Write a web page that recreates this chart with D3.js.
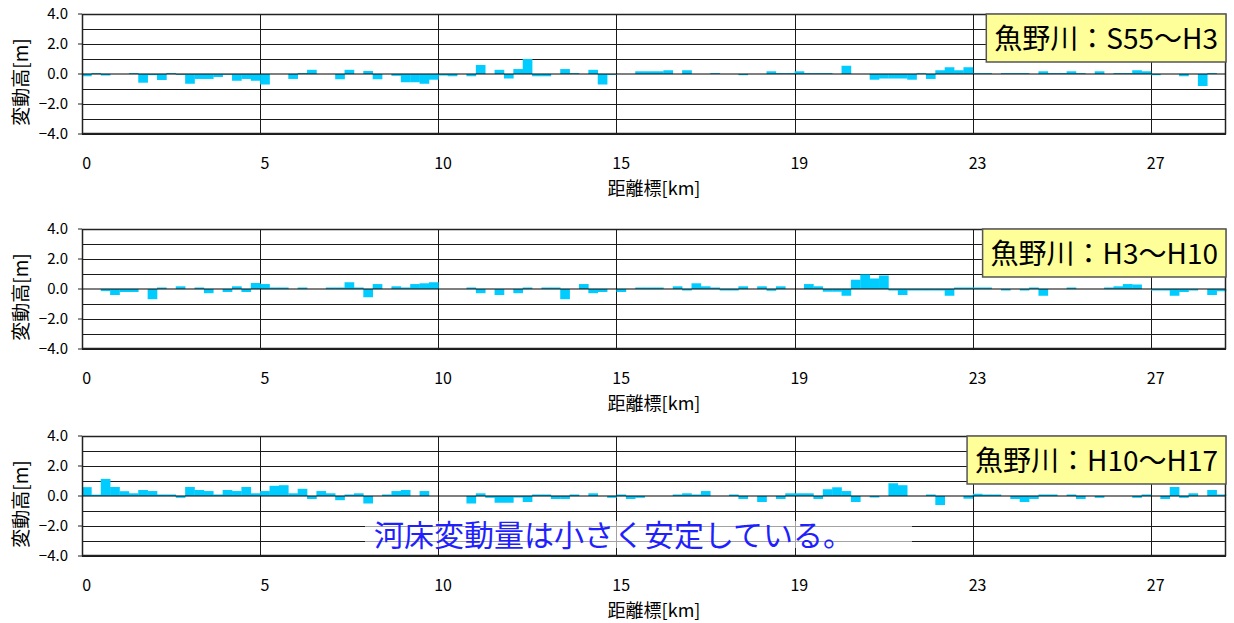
<!DOCTYPE html>
<html>
<head>
<meta charset="utf-8">
<script src="https://cdn.jsdelivr.net/npm/d3@7"></script>
<style>
  html, body { margin: 0; padding: 0; background: #fff; }
  svg { display: block; font-family: "Noto Sans CJK JP", "Noto Sans", sans-serif; }
</style>
</head>
<body>
<figure id="bed" style="margin:0"></figure>
<script>
// distance-marker sections along the river (one bar per section)
const sections = d3.range(122);
const tickIndex = [0, 19, 38, 57, 76, 95, 114];
const tickLabels = ["0", "5", "10", "15", "19", "23", "27"];
const yTicks = [-4, -2, 0, 2, 4];
const yGrid = [-4, -3, -2, -1, 0, 1, 2, 3, 4];
const periods = ["魚野川：S55～H3", "魚野川：H3～H10", "魚野川：H10～H17"];

// bed elevation change [m]
const changeS55H3 = [
  -0.15, 0.06, -0.1, 0, 0, 0.06, -0.58, -0.08, -0.4, 0.06,
  -0.06, -0.65, -0.33, -0.33, -0.2, -0.05, -0.45, -0.33, -0.45, -0.7,
  0, 0, -0.33, 0.06, 0.28, 0, 0, -0.35, 0.28, 0,
  0.2, -0.35, 0, -0.12, -0.55, -0.55, -0.65, -0.38, -0.1, -0.15,
  0, -0.15, 0.6, 0, 0.28, -0.3, 0.33, 1.0, -0.15, -0.15,
  0, 0.33, 0.06, 0, 0.28, -0.7, -0.06, 0, 0, 0.18,
  0.18, 0.18, 0.25, 0, 0.25, 0, 0, 0.06, 0, 0,
  -0.08, 0, 0, 0.18, 0.06, 0.06, 0.18, 0.06, 0.06, 0.06,
  0, 0.55, 0, 0, -0.38, -0.3, -0.3, -0.3, -0.38, 0.05,
  -0.33, 0.25, 0.45, 0.25, 0.45, 0.06, 0.06, 0, 0.06, 0.06,
  0.06, 0, 0.18, 0.06, 0.06, 0.18, 0.06, 0, 0.18, 0,
  0.06, 0.06, 0.25, 0.18, -0.08, 0, 0, -0.15, 0, -0.8,
  0.06, 0
];
const changeH3H10 = [
  0, 0, -0.14, -0.4, -0.2, -0.2, 0, -0.68, 0.1, 0,
  0.18, 0, 0.1, -0.28, 0, -0.2, 0.18, -0.2, 0.4, 0.33,
  0.1, 0.1, 0, 0.1, 0, 0, 0.1, 0.1, 0.45, 0.1,
  -0.55, 0.33, 0, 0.18, 0.1, 0.33, 0.38, 0.45, 0, 0,
  0, 0.1, -0.28, 0, -0.4, 0, -0.28, 0.1, 0, 0.1,
  0.1, -0.68, 0, 0.33, -0.28, -0.2, 0, -0.2, 0, 0.1,
  0.1, 0.1, 0, 0.18, -0.1, 0.38, 0.18, 0.1, -0.1, -0.1,
  0.18, 0, 0.18, -0.12, 0.18, 0, 0, 0.33, 0.18, -0.18,
  -0.18, -0.45, 0.62, 0.97, 0.7, 0.9, -0.1, -0.4, -0.1, -0.1,
  -0.1, -0.1, -0.45, 0.1, 0.1, 0.1, 0.1, 0, -0.1, 0,
  -0.1, 0.1, -0.45, 0, 0, 0.1, 0, 0, 0, 0.1,
  0.18, 0.33, 0.3, 0, -0.1, -0.1, -0.45, -0.2, -0.1, 0,
  -0.4, -0.15
];
const changeH10H17 = [
  0.59, 0.09, 1.14, 0.6, 0.32, 0.18, 0.4, 0.33, 0.1, 0.1,
  -0.12, 0.6, 0.4, 0.33, 0.1, 0.4, 0.33, 0.6, 0.18, 0.33,
  0.68, 0.72, 0.18, 0.48, -0.2, 0.33, 0.18, -0.28, 0.1, 0.18,
  -0.5, 0, 0.1, 0.33, 0.4, 0, 0.33, 0, 0, 0,
  0, -0.5, 0.18, -0.12, -0.45, -0.45, -0.1, -0.4, 0.1, 0.1,
  -0.2, -0.2, 0.1, 0, 0.18, 0, -0.12, 0.1, -0.2, -0.12,
  0, 0, 0, 0.1, 0.18, 0.1, 0.33, 0, 0, 0.1,
  -0.2, 0, -0.4, 0, -0.2, 0.18, 0.18, 0.18, -0.2, 0.45,
  0.58, 0.33, -0.4, 0, -0.1, 0, 0.85, 0.72, 0, 0,
  0.1, -0.6, 0, 0, -0.18, 0.15, 0.1, 0.1, 0, -0.2,
  -0.4, -0.2, 0.1, 0.1, 0, 0.1, -0.2, 0, -0.12, 0,
  0, 0, -0.12, 0.1, 0, -0.2, 0.6, -0.12, 0.18, 0,
  0.4, 0.1
];
const series = [changeS55H3, changeH3H10, changeH10H17];
const note = "河床変動量は小さく安定している。";

const width = 1234, height = 623;
const left = 82, right = 1226, plotH = 120;
const tops = [14, 229, 436];

const svg = d3.select("figure#bed")
  .append("svg")
  .attr("width", width)
  .attr("height", height);

const x = d3.scaleBand()
  .domain(sections)
  .range([left, right])
  .padding(0);

series.forEach((values, p) => {
  const top = tops[p], bottom = top + plotH;
  const y = d3.scaleLinear().domain([-4, 4]).range([bottom, top]);
  const g = svg.append("g");

  // horizontal grid
  g.selectAll("line.hgrid")
    .data(yGrid.filter(v => v !== 0))
    .enter()
    .append("line")
    .attr("x1", left).attr("x2", right)
    .attr("y1", d => Math.round(y(d)) + 0.5)
    .attr("y2", d => Math.round(y(d)) + 0.5)
    .attr("stroke", "#1a1a1a")
    .attr("stroke-width", 1);

  // vertical grid at the labelled sections
  g.selectAll("line.vgrid")
    .data(tickIndex.slice(1))
    .enter()
    .append("line")
    .attr("x1", d => Math.round(x(d)) + 0.5)
    .attr("x2", d => Math.round(x(d)) + 0.5)
    .attr("y1", top).attr("y2", bottom)
    .attr("stroke", "#1a1a1a")
    .attr("stroke-width", 1);

  // bars
  g.selectAll("rect.bar")
    .data(values)
    .enter()
    .append("rect")
    .attr("x", (d, i) => x(sections[i]))
    .attr("width", x.bandwidth() + 0.3)
    .attr("y", d => y(Math.max(0, d)))
    .attr("height", d => Math.abs(y(d) - y(0)))
    .attr("fill", "#00ccff");

  // zero line
  g.append("line")
    .attr("x1", left).attr("x2", right)
    .attr("y1", y(0)).attr("y2", y(0))
    .attr("stroke", "#000")
    .attr("stroke-opacity", 0.5)
    .attr("stroke-width", 2);

  // frame
  g.append("rect")
    .attr("x", left + 0.5).attr("y", top + 0.5)
    .attr("width", right - left - 1).attr("height", plotH - 1)
    .attr("fill", "none")
    .attr("stroke", "#222")
    .attr("stroke-width", 1.5);

  // y ticks and labels
  g.selectAll("line.ytick")
    .data(yTicks)
    .enter()
    .append("line")
    .attr("x1", left - 4).attr("x2", left)
    .attr("y1", d => y(d)).attr("y2", d => y(d))
    .attr("stroke", "#222");

  g.selectAll("text.ylab")
    .data(yTicks)
    .enter()
    .append("text")
    .attr("x", 68)
    .attr("y", d => y(d))
    .attr("dy", "0.35em")
    .attr("text-anchor", "end")
    .style("font-size", "15px")
    .text(d => d3.format(".1f")(d));

  g.append("text")
    .attr("transform", "translate(21," + (top + plotH / 2 + 8) + ") rotate(-90)")
    .attr("text-anchor", "middle")
    .attr("dy", "0.35em")
    .style("font-size", "19px")
    .text("変動高[m]");

  // x labels
  g.selectAll("text.xlab")
    .data(tickIndex)
    .enter()
    .append("text")
    .attr("x", d => x(d) + x.bandwidth() / 2)
    .attr("y", bottom + 29)
    .attr("dy", "0.35em")
    .attr("text-anchor", "middle")
    .style("font-size", "16px")
    .text((d, i) => tickLabels[i]);

  g.append("text")
    .attr("x", 654)
    .attr("y", bottom + 55)
    .attr("dy", "0.35em")
    .attr("text-anchor", "middle")
    .style("font-size", "18px")
    .text("距離標[km]");

  // period label box
  const lg = g.append("g");
  const box = lg.append("rect");
  const label = lg.append("text")
    .attr("y", top + 25)
    .attr("dy", "0.36em")
    .style("font-size", "28px")
    .text(periods[p]);
  const tw = label.node().getComputedTextLength();
  const bw = tw + 16;
  box.attr("x", right - bw).attr("y", top)
    .attr("width", bw).attr("height", 48)
    .attr("fill", "#ffff99")
    .attr("stroke", "#555")
    .attr("stroke-width", 1.5);
  label.attr("x", right - bw + 8);
});

// note on the last panel
svg.append("rect")
  .attr("x", 365).attr("y", 521)
  .attr("width", 547).attr("height", 27)
  .attr("fill", "#fff")
  .attr("fill-opacity", 0.6);

svg.append("text")
  .attr("x", 374)
  .attr("y", 535)
  .attr("dy", "0.36em")
  .attr("fill", "#1f1fff")
  .style("font-size", "30px")
  .text(note);
</script>
</body>
</html>
